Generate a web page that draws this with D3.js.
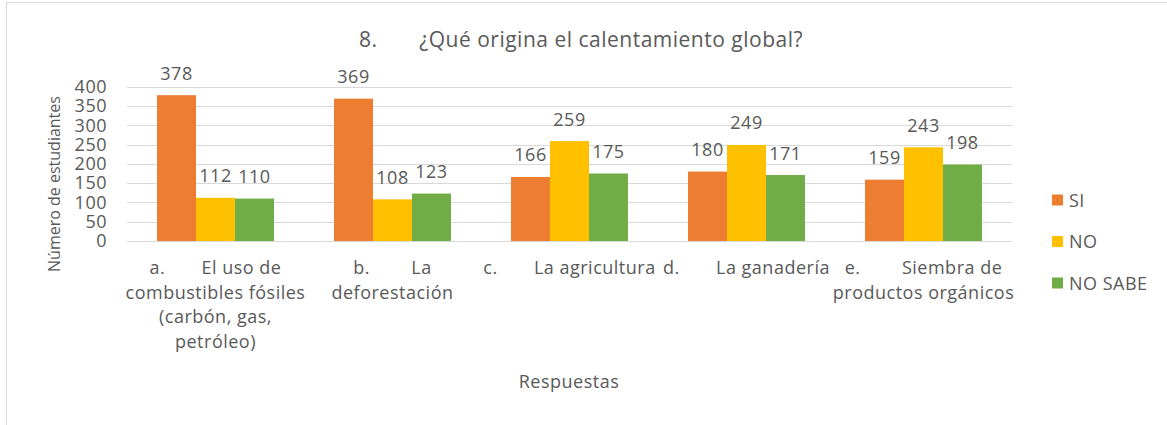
<!DOCTYPE html>
<html>
<head>
<meta charset="utf-8">
<script src="https://cdn.jsdelivr.net/npm/d3@7"></script>
<style>
  body { margin: 0; background: #fff; }
  svg text { font-family: "Open Sans", sans-serif; fill: #595959; letter-spacing: 0.5px; white-space: pre; }
</style>
</head>
<body>
<svg id="chart" width="1167" height="425"></svg>
<script>
// categories (each one split in lines like the Excel wrap)
const categories = ["a", "b", "c", "d", "e"];
const categoryLines = [
  ["a.       El uso de", "combustibles fósiles", "(carbón, gas,", "petróleo)"],
  ["b.        La", "deforestación"],
  ["c.       La agricultura"],
  ["d.       La ganadería"],
  ["e.        Siembra de", "productos orgánicos"]
];
const series = ["SI", "NO", "NO SABE"];
const siValues = [378, 369, 166, 180, 159];
const noValues = [112, 108, 259, 249, 243];
const noSabeValues = [110, 123, 175, 171, 198];
const yTicks = [0, 50, 100, 150, 200, 250, 300, 350, 400];

const colors = { "SI": "#ED7D31", "NO": "#FFC000", "NO SABE": "#70AD47" };
const valuesBySeries = { "SI": siValues, "NO": noValues, "NO SABE": noSabeValues };

const svg = d3.select("#chart");

// chart border (goes past the window on right/bottom)
svg.append("rect")
  .attr("x", 6.5).attr("y", 2.5)
  .attr("width", 1200).attr("height", 450)
  .attr("fill", "none")
  .attr("stroke", "#D9D9D9");

const plotLeft = 127, plotRight = 1012, plotTop = 86.7, plotBottom = 241;

const x0 = d3.scaleBand().domain(categories).range([plotLeft, plotRight]);
const x1 = d3.scaleBand().domain(series).range([0, x0.bandwidth()])
  .paddingInner(0).paddingOuter(0.77);
const y = d3.scaleLinear().domain([0, 400]).range([plotBottom, plotTop]);

// gridlines
svg.append("g").selectAll("line")
  .data(yTicks)
  .enter().append("line")
  .attr("x1", plotLeft).attr("x2", plotRight)
  .attr("y1", d => Math.round(y(d)) + 0.5)
  .attr("y2", d => Math.round(y(d)) + 0.5)
  .attr("stroke", "#D9D9D9")
  .attr("stroke-width", 1);

// y axis labels
const yAxis = svg.append("g")
  .attr("transform", "translate(107,0)")
  .call(d3.axisLeft(y).tickValues(yTicks).tickSize(0).tickPadding(0));
yAxis.select(".domain").remove();
yAxis.selectAll("text")
  .attr("font-size", 18)
  .attr("font-family", null)
  .style("fill", "#595959");

// bars
const rows = categories.map((c, i) => ({ cat: c, i: i }));
const groups = svg.append("g").selectAll("g")
  .data(rows)
  .enter().append("g")
  .attr("transform", d => "translate(" + x0(d.cat) + ",0)");

groups.selectAll("rect")
  .data(d => series.map(s => ({ s: s, v: valuesBySeries[s][d.i] })))
  .enter().append("rect")
  .attr("x", d => x1(d.s))
  .attr("width", x1.bandwidth())
  .attr("y", d => y(d.v))
  .attr("height", d => y(0) - y(d.v))
  .attr("fill", d => colors[d.s]);

groups.selectAll("text.val")
  .data(d => series.map(s => ({ s: s, v: valuesBySeries[s][d.i] })))
  .enter().append("text")
  .attr("class", "val")
  .attr("x", d => x1(d.s) + x1.bandwidth() / 2)
  .attr("y", d => y(d.v) - 15.5)
  .attr("text-anchor", "middle")
  .attr("font-size", 18)
  .text(d => d.v);

// category labels
const catLabels = svg.append("g").selectAll("text")
  .data(rows)
  .enter().append("text")
  .attr("x", d => x0(d.cat) + x0.bandwidth() / 2)
  .attr("y", 274)
  .attr("text-anchor", "middle")
  .attr("font-size", 18);
catLabels.selectAll("tspan")
  .data(d => categoryLines[d.i])
  .enter().append("tspan")
  .attr("x", function() { return d3.select(this.parentNode).attr("x"); })
  .attr("dy", (d, i) => i === 0 ? 0 : 24.5)
  .text(d => d);

// title
svg.append("text")
  .attr("x", 581).attr("y", 47)
  .attr("text-anchor", "middle")
  .attr("font-size", 21)
  .text("8.       ¿Qué origina el calentamiento global?");

// axis titles
svg.append("text")
  .attr("transform", "translate(60,184) rotate(-90)")
  .attr("text-anchor", "middle")
  .attr("font-size", 16)
  .style("letter-spacing", "0px")
  .text("Número de estudiantes");

svg.append("text")
  .attr("x", 569).attr("y", 388)
  .attr("text-anchor", "middle")
  .attr("font-size", 18)
  .text("Respuestas");

// legend
const legend = svg.append("g").selectAll("g")
  .data(series)
  .enter().append("g")
  .attr("transform", (d, i) => "translate(1052," + (200 + i * 41.5) + ")");
legend.append("rect")
  .attr("x", 0).attr("y", -5.5)
  .attr("width", 11).attr("height", 11)
  .attr("fill", d => colors[d]);
legend.append("text")
  .attr("x", 17).attr("y", 6.5)
  .attr("font-size", 18)
  .text(d => d);
</script>
</body>
</html>
